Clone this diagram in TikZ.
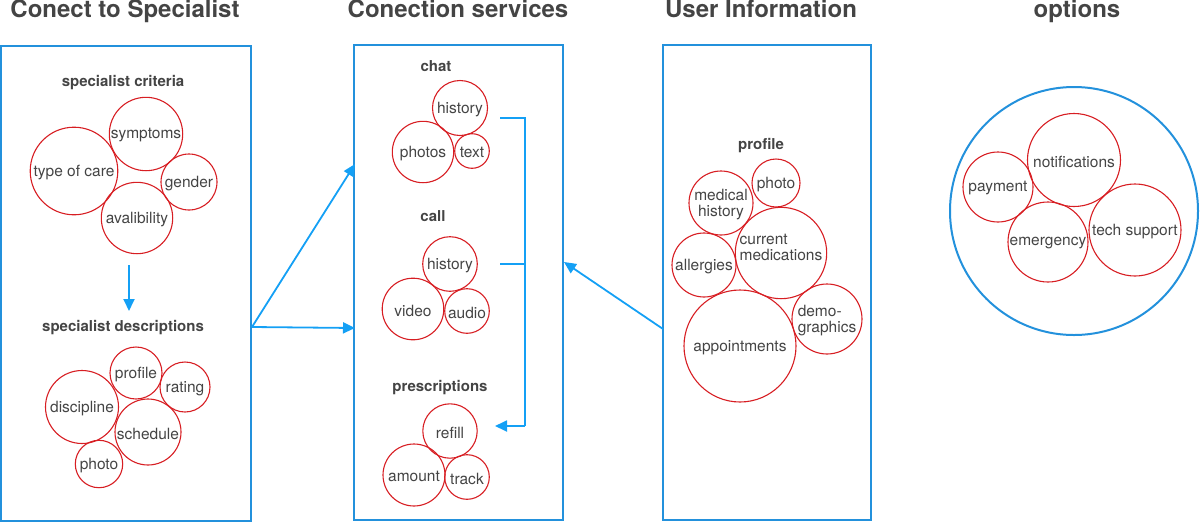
\documentclass[tikz,border=0pt]{standalone}
\usepackage{fontspec}
\setmainfont{TeX Gyre Heros}
\usetikzlibrary{arrows.meta}
\definecolor{boxblue}{RGB}{35,145,220}
\definecolor{arrblue}{RGB}{20,160,245}
\definecolor{bubred}{RGB}{215,30,35}
\definecolor{txtgray}{RGB}{68,68,68}
\tikzset{
  panel/.style={draw=boxblue, line width=2pt, minimum width=#1, minimum height=475pt, inner sep=0pt},
  bub/.style={draw=bubred, line width=1.1pt, circle, minimum size=#1, inner sep=0pt},
  lbl/.style={text=txtgray, font=\fontsize{15.5}{17}\selectfont, align=center, inner sep=0pt, yshift=-1.5pt},
  blbl/.style={text=txtgray, font=\fontsize{15}{17}\selectfont\bfseries, inner sep=0pt, yshift=-2pt},
  title/.style={text=txtgray, font=\fontsize{24}{28}\selectfont\bfseries, anchor=base, inner sep=0pt},
  arr/.style={draw=arrblue, line width=1.8pt, -{Triangle[length=12pt,width=11pt]}},
  plainline/.style={draw=arrblue, line width=1.8pt}
}
\begin{document}
\begin{tikzpicture}[x=1pt,y=-1pt]
\useasboundingbox (0,0) rectangle (1200,523);
% titles
\node[title] (t1) at (125,17) {Conect to Specialist};
\node[title] (t2) at (458,17) {Conection services};
\node[title] (t3) at (761,17) {User Information};
\node[title] (t4) at (1077,17) {options};
% panels
\node[panel=250pt] (b1) at (126,283) {};
\node[panel=209pt] (b2) at (458.5,282.5) {};
\node[panel=208pt] (b3) at (767,282.5) {};
\node[draw=boxblue, line width=2pt, circle, minimum size=248pt, inner sep=0pt] (opt) at (1074,211) {};
% box 1
\node[blbl] (crit) at (123,81) {specialist criteria};
\node[bub=73.4pt, label={[lbl]center:symptoms}] (symp) at (146,134) {};
\node[bub=87.6pt, label={[lbl]center:type of care}] (toc) at (74,171) {};
\node[bub=56pt, label={[lbl]center:gender}] (gend) at (189,182) {};
\node[bub=71.4pt, label={[lbl]center:avalibility}] (aval) at (137,218) {};
\coordinate (d1) at (129,265);
\coordinate (d2) at (129,311);
\draw[arr] (d1) -- (d2);
\node[blbl] (desc) at (123,326) {specialist descriptions};
\node[bub=52pt, label={[lbl]center:profile}] (prof) at (136,373) {};
\node[bub=50pt, label={[lbl]center:rating}] (rate) at (185,387) {};
\node[bub=73pt, label={[lbl]center:discipline}] (disc) at (82,407) {};
\node[bub=66pt, label={[lbl]center:schedule}] (sched) at (148,432) {};
\node[bub=47.4pt, label={[lbl]center:photo}] (sphoto) at (99,464) {};
% box 2
\node[blbl] (chat) at (436,64) {chat};
\node[bub=55pt, label={[lbl]center:history}] (chist) at (460,108) {};
\node[bub=61.4pt, label={[lbl]center:photos}] (cphotos) at (423,152) {};
\node[bub=34.6pt, label={[lbl]center:text}] (ctext) at (472,151) {};
\node[blbl] (call) at (433,214) {call};
\node[bub=54.6pt, label={[lbl]center:history}] (khist) at (450,264) {};
\node[bub=61.6pt, label={[lbl]center:video}] (video) at (413,309) {};
\node[bub=44.6pt, label={[lbl]center:audio}] (audio) at (467,311) {};
\node[blbl] (presc) at (440,386) {prescriptions};
\node[bub=54.4pt, label={[lbl]center:refill}] (refill) at (450,431) {};
\node[bub=62pt, label={[lbl]center:amount}] (amount) at (414,475) {};
\node[bub=44.6pt, label={[lbl]center:track}] (track) at (467,477) {};
% bracket connector
\coordinate (k1) at (500,118);
\coordinate (k2) at (500,264);
\coordinate (kc) at (525,264);
\coordinate (kb) at (525,426);
\coordinate (k3) at (495,426);
\draw[plainline] (k1) -| (kb);
\draw[plainline] (k2) -- (kc);
\draw[arr] (kb) -- (k3);
% box 3
\node[blbl] (uprof) at (761,144) {profile};
\node[bub=48pt, label={[lbl]center:photo}] (uphoto) at (776,183) {};
\node[bub=64pt, label={[lbl, align=center]center:medical\\[-1pt]history}] (medh) at (721,203) {};
\node[bub=91.4pt, label={[lbl, align=left, yshift=7pt]center:current\\[-1pt]medications}] (curmed) at (781,253) {};
\node[bub=64pt, label={[lbl]center:allergies}] (allerg) at (704,265) {};
\node[bub=70pt, label={[lbl, align=left]center:demo-\\[-1pt]graphics}] (demo) at (827,319) {};
\node[bub=112pt, label={[lbl]center:appointments}] (appt) at (740,346) {};
% options
\node[bub=93pt, label={[lbl]center:notifications}] (notif) at (1074,160) {};
\node[bub=70pt, label={[lbl]center:payment}] (pay) at (998,187) {};
\node[bub=80pt, label={[lbl]center:emergency}] (emerg) at (1048,242) {};
\node[bub=92pt, label={[lbl]center:tech support}] (tech) at (1135,230) {};
% arrows between panels
\coordinate (s1) at (252,327);
\coordinate (e1) at (355,164);
\coordinate (e2) at (355,328);
\draw[arr] (s1) -- (e1);
\draw[arr] (s1) -- (e2);
\coordinate (s3) at (663,329);
\coordinate (e3) at (564,262);
\draw[arr] (s3) -- (e3);
\end{tikzpicture}
\end{document}
